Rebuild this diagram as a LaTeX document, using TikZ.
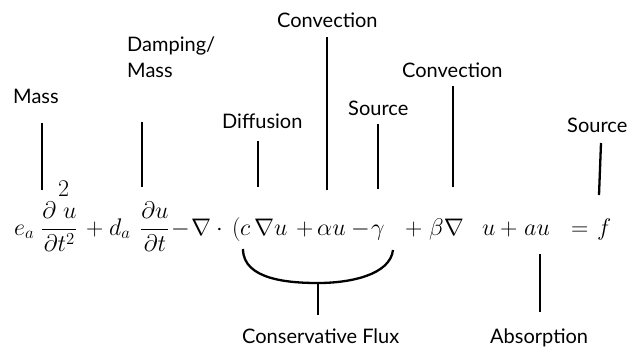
\RequirePackage{fix-cm}
\documentclass[tikz,border=0pt]{standalone}
\usepackage{amsmath, amssymb}
\usepackage{fontspec}
\usepackage{tikz}
\usetikzlibrary{positioning, calc}
\newfontfamily\lblfont{Lato}
\tikzset{
  lbl/.style={font=\lblfont\fontsize{20}{26}\selectfont, anchor=base west, inner sep=0pt, align=left},
  term/.style={font=\fontsize{24}{28}\selectfont, anchor=base west, inner sep=0pt},
  tick/.style={line width=2.3pt},
}

\begin{document}
\begin{tikzpicture}[x=1pt, y=-1pt]
\useasboundingbox (0,0) rectangle (634,354);

% labels above and below
\node[lbl] (mass) at (13,103) {Mass};
\node[lbl] (damp) at (127,77) {Damping/\\Mass};
\node[lbl] (diff) at (222,128) {Diffusion};
\node[lbl] (conv) at (277,27) {Convection};
\node[lbl] (src) at (348,115) {Source};
\node[lbl] (convb) at (402,77) {Convection};
\node[lbl] (srcb) at (567,132) {Source};
\node[lbl] (flux) at (242,343) {Conservative Flux};
\node[lbl] (abs) at (490,343) {Absorption};

% the equation, piece by piece
\node[term] (ea) at (14,235) {$e_a$};
\node[term] (fr1) at (41,235) {$\displaystyle\frac{\partial\hspace{7pt}u}{\partial t^2}$};
\node[term] (sq) at (58,196) {$2$};
\node[term] (p1) at (86,235) {$+$};
\node[term] (da) at (109,235) {$d_a$};
\node[term] (fr2) at (140,235) {$\displaystyle\frac{\partial u}{\partial t}$};
\node[term] (m1) at (171,235) {$-$};
\node[term] (nab) at (191,235) {$\nabla$};
\node[term] (dot) at (216,235) {$\cdot$};
\node[term] (par) at (232,235) {$($};
\node[term] (c) at (240,235) {$c$};
\node[term] (nu) at (254,235) {$\nabla u$};
\node[term] (p2) at (296,235) {$+$};
\node[term] (au1) at (317,235) {$\alpha u$};
\node[term] (m2) at (351,235) {$-$};
\node[term] (gam) at (371,235) {$\gamma$};
\node[term] (p3) at (405,235) {$+$};
\node[term] (bn) at (429,235) {$\beta\nabla$};
\node[term] (u) at (482,235) {$u$};
\node[term] (p4) at (500,235) {$+$};
\node[term] (au2) at (524,235) {$a u$};
\node[term] (eq) at (571,235) {$=$};
\node[term] (f) at (597,235) {$f$};

% ticks
\coordinate (massT) at (42,123);   \coordinate (massB) at (42,190);
\coordinate (dampT) at (142,122);  \coordinate (dampB) at (142,187);
\coordinate (diffT) at (258,141);  \coordinate (diffB) at (258,187);
\coordinate (convT) at (327,37);   \coordinate (convB) at (327,190);
\coordinate (srcT) at (378,124);   \coordinate (srcB) at (378,189);
\coordinate (convbT) at (453,86);  \coordinate (convbB) at (453,187);
\coordinate (srcbT) at (601,143);  \coordinate (srcbB) at (599,195);
\coordinate (absT) at (540,254);   \coordinate (absB) at (540,312);
\draw[tick] (massT) -- (massB);
\draw[tick] (dampT) -- (dampB);
\draw[tick] (diffT) -- (diffB);
\draw[tick] (convT) -- (convB);
\draw[tick] (srcT) -- (srcB);
\draw[tick] (convbT) -- (convbB);
\draw[tick] (srcbT) -- (srcbB);
\draw[tick] (absT) -- (absB);

% brace under the flux
\coordinate (brL) at (243,249);
\coordinate (brM) at (318,283);
\coordinate (brR) at (393,250);
\coordinate (fluxT) at (318,315);
\draw[tick] (brL) .. controls (243,280) and (290,283) .. (brM)
  .. controls (350,283) and (390,275) .. (brR);
\draw[tick] (brM) -- (fluxT);
\end{tikzpicture}
\end{document}
